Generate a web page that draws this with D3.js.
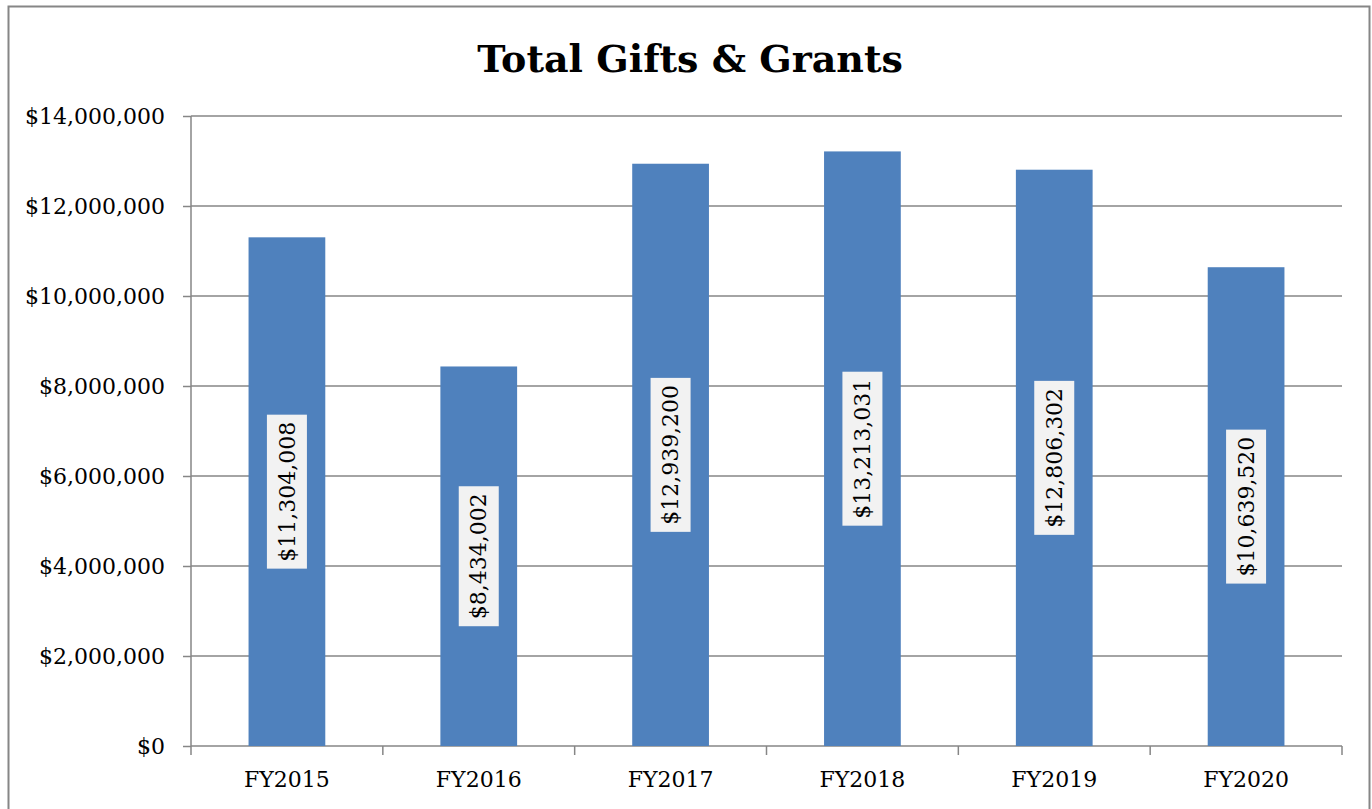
<!DOCTYPE html>
<html>
<head>
<meta charset="utf-8">
<script src="https://d3js.org/d3.v7.min.js"></script>
<style>
  body { margin: 0; background: #fff; }
  svg text { font-family: "DejaVu Serif", "Liberation Serif", serif; }
</style>
</head>
<body>
<div id="chart"></div>
<script>
// Data
var years = ["FY2015", "FY2016", "FY2017", "FY2018", "FY2019", "FY2020"];
var totals = [11304008, 8434002, 12939200, 13213031, 12806302, 10639520];
var yTicks = [0, 2000000, 4000000, 6000000, 8000000, 10000000, 12000000, 14000000];

var width = 1372,
    height = 809,
    margin = { top: 116, right: 30, bottom: 63, left: 191 };

var svg = d3.select("#chart").append("svg")
    .attr("width", width)
    .attr("height", height);

// outer chart border
svg.append("rect")
    .attr("x", 8.5)
    .attr("y", 6.5)
    .attr("width", 1361)
    .attr("height", 820)
    .attr("fill", "none")
    .attr("stroke", "#868686")
    .attr("stroke-width", 2);

svg.append("text")
    .attr("x", 690)
    .attr("y", 72)
    .attr("text-anchor", "middle")
    .style("font-size", "38px")
    .style("font-weight", "bold")
    .text("Total Gifts & Grants");

var x = d3.scaleBand()
    .domain(years)
    .range([margin.left, 1342])
    .paddingInner(0.6)
    .paddingOuter(0.3);

var y = d3.scaleLinear()
    .domain([0, 14000000])
    .range([746, margin.top]);

var fmt = d3.format("$,");

// gridlines
svg.append("g")
  .selectAll("line")
    .data(yTicks.slice(1))
  .enter().append("line")
    .attr("x1", margin.left)
    .attr("x2", 1342)
    .attr("y1", function(d) { return y(d); })
    .attr("y2", function(d) { return y(d); })
    .attr("stroke", "#868686")
    .attr("stroke-width", 1.5);

// y axis
var yAxis = svg.append("g")
    .attr("transform", "translate(" + margin.left + ",0)")
    .call(d3.axisLeft(y).tickValues(yTicks).tickFormat(fmt).tickSize(8).tickPadding(18));

// x axis: ticks sit between categories
var xAxis = svg.append("g")
    .attr("transform", "translate(0," + y(0) + ")")
    .call(d3.axisBottom(x).tickSize(0).tickPadding(25));

xAxis.selectAll(".tickmark")
    .data(d3.range(years.length + 1))
  .enter().append("line")
    .attr("class", "tickmark")
    .attr("x1", function(i) { return margin.left + i * x.step(); })
    .attr("x2", function(i) { return margin.left + i * x.step(); })
    .attr("y1", 0)
    .attr("y2", 9)
    .attr("stroke", "#868686")
    .attr("stroke-width", 1.5);

[yAxis, xAxis].forEach(function(a) {
  a.select(".domain").attr("stroke", "#868686").attr("stroke-width", 1.5);
  a.selectAll(".tick line").attr("stroke", "#868686").attr("stroke-width", 1.5);
  a.selectAll(".tick text")
      .attr("fill", "#000")
      .style("font-size", "22px")
      .style("font-family", "DejaVu Serif, serif");
});
yAxis.select(".domain").attr("d", "M0," + margin.top + "V" + y(0));
xAxis.select(".domain").attr("d", "M" + margin.left + ",0H1342");

// bars
svg.append("g")
  .selectAll("rect")
    .data(totals)
  .enter().append("rect")
    .attr("x", function(d, i) { return x(years[i]); })
    .attr("y", function(d) { return y(d); })
    .attr("width", x.bandwidth())
    .attr("height", function(d) { return y(0) - y(d); })
    .attr("fill", "#4f81bd");

// rotated value labels in the middle of each bar
var labels = svg.append("g")
  .selectAll("g")
    .data(totals)
  .enter().append("g")
    .attr("transform", function(d, i) {
      var cx = x(years[i]) + x.bandwidth() / 2,
          cy = (y(d) + y(0)) / 2;
      return "translate(" + cx + "," + cy + ") rotate(-90)";
    });

labels.append("rect")
    .attr("fill", "#f2f2f2");

labels.append("text")
    .attr("text-anchor", "middle")
    .attr("dy", "0.35em")
    .style("font-size", "22px")
    .text(function(d) { return fmt(d); });

labels.each(function() {
  var g = d3.select(this),
      w = g.select("text").node().getComputedTextLength() + 14;
  g.select("rect")
      .attr("x", -w / 2)
      .attr("y", -20)
      .attr("width", w)
      .attr("height", 40);
});
</script>
</body>
</html>
